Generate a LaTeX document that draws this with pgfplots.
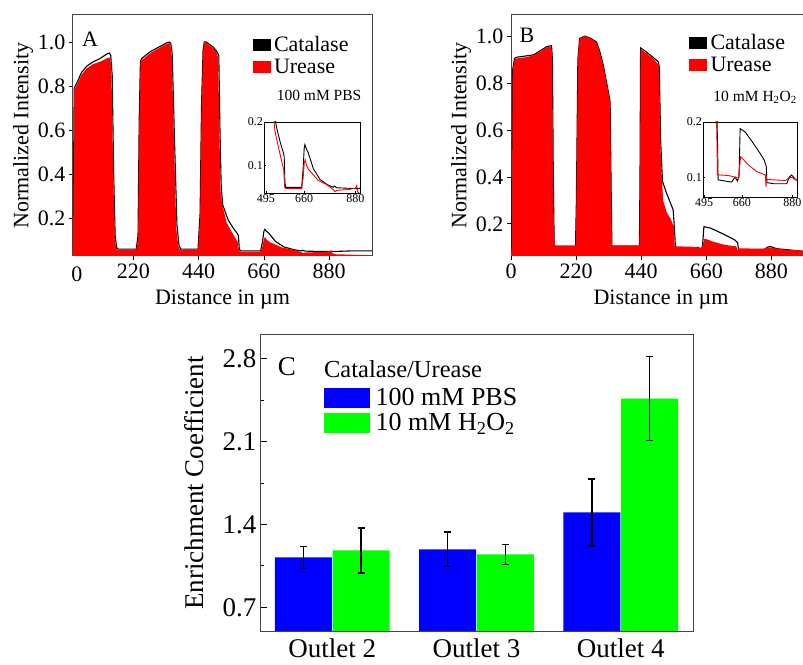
\documentclass[border=0pt]{standalone}
\usepackage{fontspec}
\setmainfont{Liberation Serif}
\usepackage{pgfplots}
\usepackage{pgfplotstable}
\pgfplotsset{compat=1.18}

\definecolor{ured}{RGB}{255,0,0}
\definecolor{bblue}{RGB}{0,0,255}
\definecolor{bgreen}{RGB}{0,255,0}
\definecolor{frame}{RGB}{70,70,70}

\newcommand{\fa}{\fontsize{22}{26}\selectfont}
\newcommand{\fb}{\fontsize{15.5}{18}\selectfont}
\newcommand{\fc}{\fontsize{27}{32}\selectfont}
\newcommand{\fe}{\fontsize{26}{31}\selectfont}
\newcommand{\fd}{\fontsize{24.5}{29}\selectfont}
\newcommand{\fins}{\fontsize{12}{14}\selectfont}

% panel A, 100 mM PBS
\pgfplotstableread{
x y
17 0.05
21 0.78
32 0.81
45 0.85
63 0.88
85 0.90
108 0.91
130 0.925
141 0.93
146 0.90
150 0.60
155 0.25
160 0.08
166 0.055
230 0.055
236 0.10
240 0.60
244 0.90
248 0.918
276 0.948
310 0.975
330 0.99
340 0.995
345 0.99
350 0.93
358 0.50
365 0.15
372 0.07
378 0.055
438 0.055
445 0.20
450 0.70
455 0.95
459 1.00
466 1.00
476 0.985
490 0.97
500 0.955
506 0.93
510 0.60
514 0.32
520 0.26
534 0.18
550 0.14
563 0.11
572 0.09
576 0.05
580 0.047
649 0.047
655 0.07
660 0.105
664 0.113
670 0.10
680 0.09
699 0.079
720 0.066
757 0.056
785 0.045
792 0.040
800 0.043
850 0.045
880 0.048
886 0.054
890 0.040
900 0.035
950 0.033
1000 0.030
1024 0.028
}\aure

\pgfplotstableread{
x y
17 0.05
21 0.79
32 0.82
45 0.86
63 0.89
85 0.91
108 0.925
130 0.945
139 0.95
144 0.94
149 0.85
154 0.40
159 0.12
164 0.065
170 0.058
230 0.058
236 0.12
240 0.65
244 0.91
248 0.925
276 0.955
310 0.98
330 0.995
341 1.0
346 0.995
351 0.95
359 0.55
367 0.17
374 0.075
380 0.058
438 0.058
445 0.22
450 0.72
455 0.96
459 1.0
466 1.0
476 0.99
490 0.975
500 0.96
508 0.94
512 0.60
516 0.35
521 0.26
540 0.19
556 0.155
570 0.13
574 0.12
577 0.06
581 0.05
649 0.05
655 0.09
660 0.14
663 0.148
668 0.14
677 0.13
699 0.093
728 0.068
760 0.056
785 0.05
790 0.053
800 0.049
886 0.047
950 0.05
1024 0.05
}\acat

% panel B, 10 mM H2O2
\pgfplotstableread{
x y
0 0.07
2 0.10
6 0.85
12 0.90
19 0.905
50 0.91
76 0.918
100 0.935
121 0.952
136 0.955
139 0.90
142 0.40
145 0.115
150 0.108
218 0.108
221 0.30
226 0.90
232 0.99
250 1.0
270 0.99
289 0.973
300 0.93
312 0.873
325 0.79
335 0.716
338 0.40
341 0.108
434 0.108
436 0.40
438 0.944
460 0.925
480 0.905
498 0.88
501 0.86
506 0.50
514 0.30
526 0.25
540 0.22
550 0.19
553 0.105
560 0.104
600 0.103
630 0.10
645 0.098
650 0.12
654 0.137
660 0.135
681 0.125
700 0.118
725 0.11
762 0.104
765 0.082
767 0.096
800 0.095
850 0.094
860 0.097
876 0.10
898 0.094
950 0.088
1010 0.085
}\bure

\pgfplotstableread{
x y
0 0.07
2 0.10
6 0.86
12 0.905
19 0.91
76 0.92
121 0.955
137 0.96
140 0.90
143 0.40
146 0.11
150 0.103
218 0.103
221 0.30
226 0.90
232 0.99
250 1.0
270 0.99
289 0.975
300 0.935
312 0.875
325 0.79
335 0.72
338 0.40
341 0.105
434 0.105
436 0.40
438 0.95
460 0.93
480 0.91
498 0.89
501 0.87
506 0.55
512 0.38
515 0.37
526 0.33
548 0.26
553 0.17
556 0.095
600 0.092
615 0.091
630 0.10
640 0.093
647 0.10
652 0.188
674 0.182
710 0.161
739 0.143
757 0.131
766 0.119
769 0.09
800 0.088
855 0.088
866 0.10
876 0.104
898 0.094
950 0.088
1010 0.08
}\bcat

% panel C
\pgfplotstableread{
x pbs pbse hp hpe
0 1.122 0.093 1.180 0.190
1 1.189 0.147 1.147 0.085
2 1.501 0.283 2.462 0.354
}\enrich

\pgfplotsset{
  profile/.style={
    scale only axis, width=299pt, height=241pt,
    clip mode=individual,
    axis line style={frame, line width=1pt},
    tick style={black, line width=0.8pt},
    tick pos=left, tick align=outside, major tick length=4pt,
    /pgf/number format/assume math mode=true,
    tick label style={font=\fa},
    xtick={0,220,440,660,880},
    ytick={0.2,0.4,0.6,0.8,1.0},
    yticklabel style={/pgf/number format/.cd, fixed, fixed zerofill, precision=1},
    ylabel near ticks,
    xlabel style={font=\fa, at={(rel axis cs:0.5,0)}, anchor=north,
      inner sep=0pt, yshift=-34pt},
    ylabel style={font=\fa, yshift=-2pt},
    xlabel={Distance in µm},
    ylabel={Normalized Intensity},
    legend image code/.code={\fill[##1] (0pt,-5.5pt) rectangle (17pt,5.5pt);},
    legend cell align=left,
    legend style={draw=none, fill=none, font=\fa, anchor=north west,
      row sep=4pt, nodes={inner sep=1pt},
      /tikz/every odd column/.append style={column sep=3pt}},
  },
  inset/.style={
    scale only axis,
    axis background/.style={fill=white},
    axis line style={black, line width=0.8pt},
    tick style={black, line width=0.6pt},
    tick pos=left, tick align=inside, major tick length=2pt,
    /pgf/number format/assume math mode=true,
    tick label style={font=\fins, inner sep=1pt},
    xtick={495,660,880}, ytick={0.1,0.2},
    yticklabel style={/pgf/number format/.cd, fixed, precision=1},
  },
  barlegend/.style={
    legend image code/.code={\fill[##1] (0pt,-9.5pt) rectangle (45pt,9.5pt);},
  },
  errs/.style={
    error bars/.cd, y dir=both, y explicit,
    error bar style={draw=black, line width=1.1pt},
    error mark options={rotate=90, mark size=3.5pt, draw=black, line width=1.1pt},
  },
}

\begin{document}
\begin{tikzpicture}
\path[use as bounding box] (0pt,0pt) rectangle (803pt,664pt);
\clip (0pt,0pt) rectangle (803pt,664pt);

% ---- A ----
\begin{axis}[profile, at={(73pt,408pt)}, anchor=south west,
  xmin=17, xmax=1024, ymin=0.027, ymax=1.123,
  legend style={at={(rel axis cs:0.59,0.925)}}]
\addlegendimage{black}\addlegendentry{Catalase}
\addlegendimage{ured}\addlegendentry{Urease}
\addplot[black, line width=1.1pt, forget plot] table {\acat};
\addplot[draw=none, fill=ured, forget plot] table {\aure} \closedcycle;
\node[font=\fa, anchor=north, inner sep=0pt] at ([yshift=-11pt]rel axis cs:0.013,0) {0};
\node[font=\fa, anchor=center] at (rel axis cs:0.057,0.90) {A};
\node[font=\fb, anchor=west] at (rel axis cs:0.67,0.668) {100 mM PBS};
\end{axis}

\begin{axis}[inset, at={(264pt,471pt)}, anchor=south west,
  width=96pt, height=71pt, xmin=487, xmax=900, ymin=0.037, ymax=0.2]
\addplot[black, line width=0.9pt] table {\acat};
\addplot[ured, line width=0.9pt] table {\aure};
\end{axis}

% ---- B ----
\begin{axis}[profile, at={(511pt,408pt)}, anchor=south west, width=300pt,
  xmin=0, xmax=1014, ymin=0.063, ymax=1.09,
  legend style={at={(rel axis cs:0.583,0.935)}}]
\addlegendimage{black}\addlegendentry{Catalase}
\addlegendimage{ured}\addlegendentry{Urease}
\addplot[black, line width=1.1pt, forget plot] table {\bcat};
\addplot[draw=none, fill=ured, forget plot] table {\bure} \closedcycle;
\node[font=\fa, anchor=center] at (rel axis cs:0.053,0.917) {B};
\node[font=\fb, anchor=west] at (rel axis cs:0.663,0.658) {10 mM H\textsubscript{2}O\textsubscript{2}};
\end{axis}

\begin{axis}[inset, at={(703pt,467pt)}, anchor=south west,
  width=94pt, height=75pt, xmin=490, xmax=900, ymin=0.064, ymax=0.2]
\addplot[black, line width=0.9pt] table {\bcat};
\addplot[ured, line width=0.9pt] table {\bure};
\end{axis}

% ---- C ----
\begin{axis}[at={(260pt,33pt)}, anchor=south west,
  scale only axis, width=433pt, height=296pt,
  axis line style={frame, line width=1pt},
  xmin=-0.5, xmax=2.5, ymin=0.5, ymax=3.0,
  xtick={0,1,2}, xticklabels={Outlet 2, Outlet 3, Outlet 4},
  xtick style={draw=none},
  xticklabel style={yshift=-4pt},
  ytick={0.7,1.4,2.1,2.8}, minor ytick={1.05,1.75,2.45},
  ytick pos=left, ytick align=inside,
  major tick length=7pt, minor tick length=4pt,
  tick style={black, line width=0.9pt},
  /pgf/number format/assume math mode=true,
  yticklabel style={/pgf/number format/.cd, fixed, fixed zerofill, precision=1},
  tick label style={font=\fc},
  ylabel near ticks,
  ylabel={Enrichment Coefficient}, ylabel style={font=\fc, yshift=12pt},
  barlegend,
  legend cell align=left,
  legend style={draw=none, fill=none, font=\fe, at={(rel axis cs:0.141,0.83)},
    anchor=north west, row sep=4pt, nodes={inner sep=1pt},
    /tikz/every odd column/.append style={column sep=5pt}}]
\addlegendimage{bblue}\addlegendentry{100 mM PBS}
\addlegendimage{bgreen}\addlegendentry{10 mM H\textsubscript{2}O\textsubscript{2}}
\addplot[ybar, bar width=0.395, bar shift=0, fill=bblue, draw=none, forget plot, errs]
  table[x expr=\thisrow{x}-0.2, y=pbs, y error=pbse] {\enrich};
\addplot[ybar, bar width=0.395, bar shift=0, fill=bgreen, draw=none, forget plot, errs]
  table[x expr=\thisrow{x}+0.2, y=hp, y error=hpe] {\enrich};
\node[font=\fc, anchor=center] at (rel axis cs:0.062,0.892) {C};
\node[font=\fd, anchor=west] at (rel axis cs:0.14,0.885) {Catalase/Urease};
\end{axis}
\end{tikzpicture}
\end{document}
